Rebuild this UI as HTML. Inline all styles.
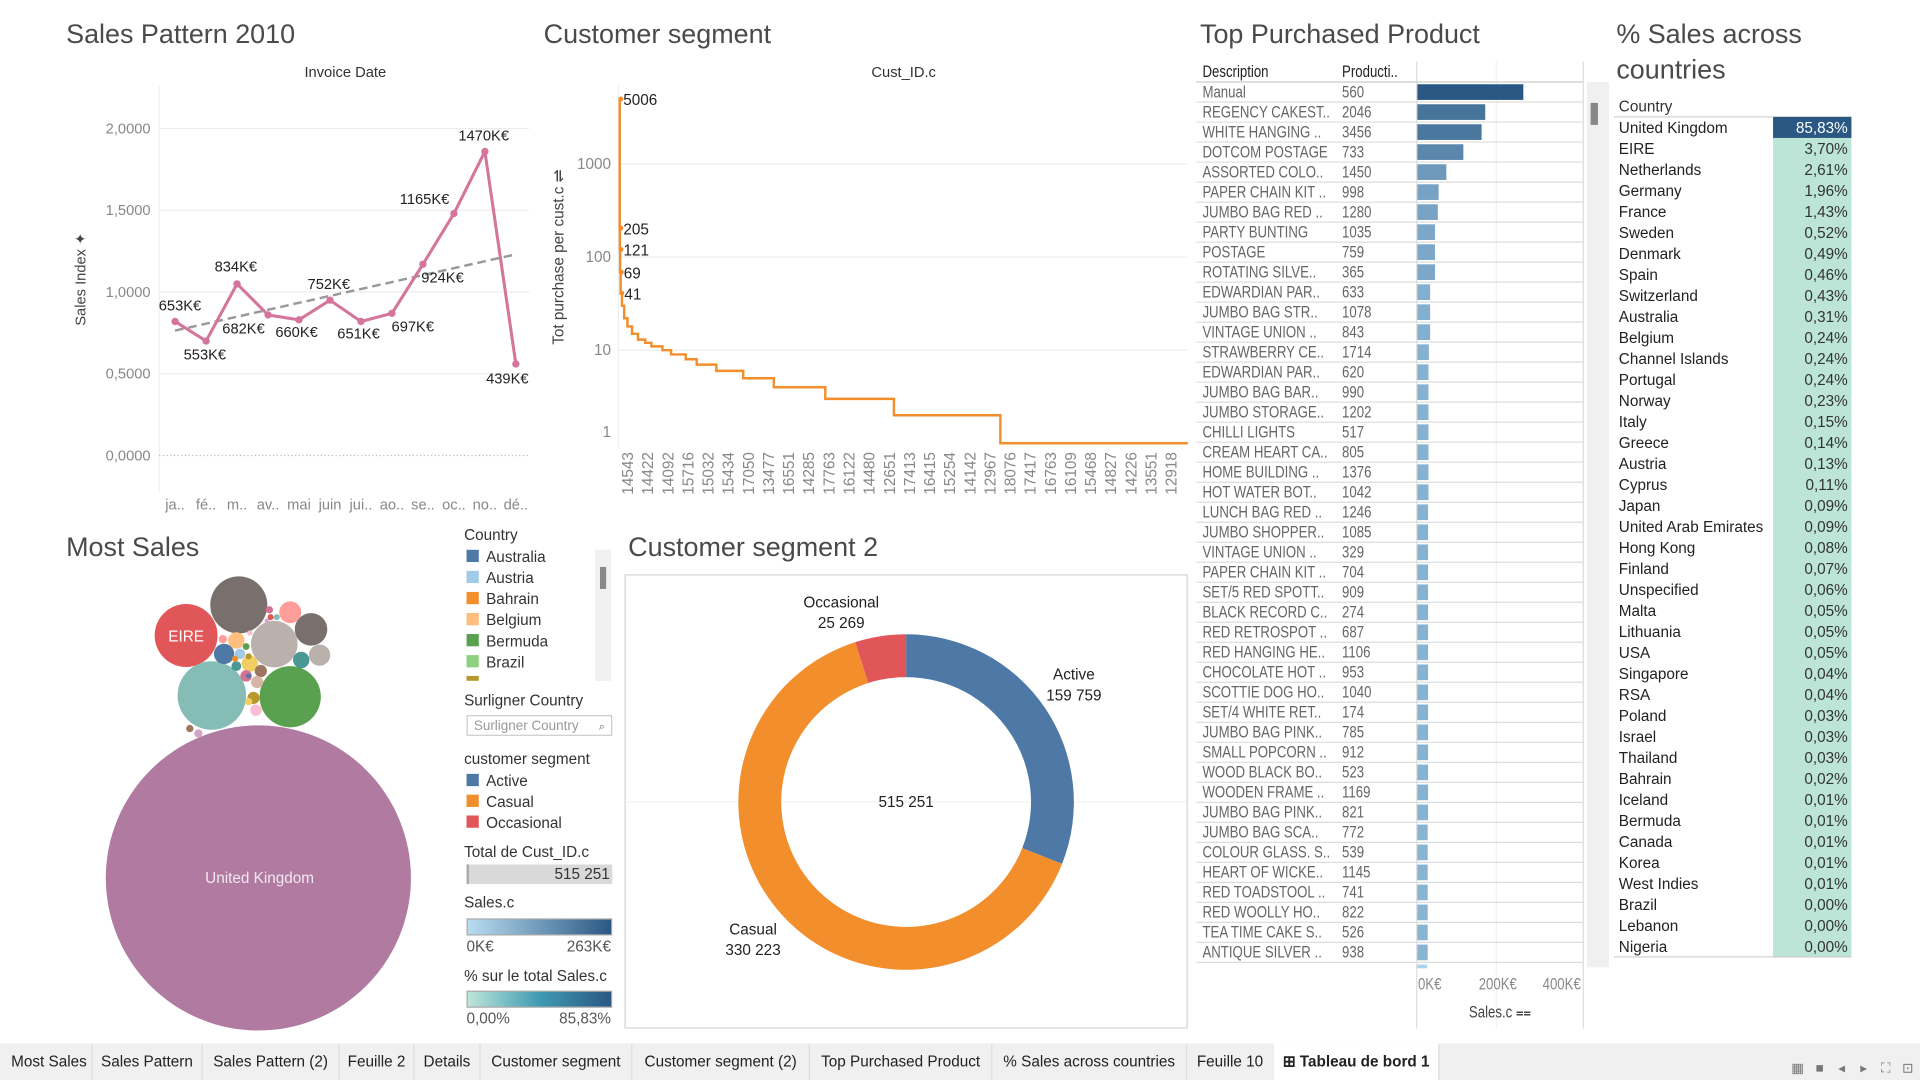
<!DOCTYPE html>
<html><head><meta charset="utf-8"><style>
html,body{margin:0;padding:0;background:#fff;overflow:hidden}
svg{display:block}
text{font-family:"Liberation Sans",sans-serif}
.t{font-size:22px;fill:#4a4a4a}
</style></head><body>
<svg id="dash" xmlns="http://www.w3.org/2000/svg" width="1920" height="1080" viewBox="0 0 1568 882">
<text x="54" y="35" class="t">Sales Pattern 2010</text>
<text x="444" y="35" class="t">Customer segment</text>
<text x="980" y="35" class="t">Top Purchased Product</text>
<text x="1320" y="35" class="t">% Sales across</text>
<text x="1320" y="64" class="t">countries</text>
<text x="54" y="454" class="t">Most Sales</text>
<text x="513" y="454" class="t">Customer segment 2</text>

<g id="line"></g>
<g id="cust"></g>
<g id="bub"></g>
<g id="donut"></g>
<g id="prod"></g>
<g id="ctry"></g>

<g font-size="12.5" fill="#333">
<text x="379" y="441">Country</text>
<g id="clegend"></g>
<rect x="486" y="449" width="13" height="107" fill="#f0f0f0"/>
<rect x="490" y="463" width="5" height="18" fill="#888"/>
<text x="379" y="576">Surligner Country</text>
<rect x="381.5" y="584.5" width="118" height="16" fill="#fff" stroke="#ccc"/>
<text x="387" y="596" font-size="11" fill="#999">Surligner Country</text>
<text x="489" y="596" font-size="9" fill="#666">⌕</text>
<text x="379" y="624">customer segment</text>
<rect x="381" y="632" width="10" height="10" fill="#4e79a7"/>
<text x="397" y="642">Active</text>
<rect x="381" y="649" width="10" height="10" fill="#f28e2b"/>
<text x="397" y="659">Casual</text>
<rect x="381" y="666" width="10" height="10" fill="#e15759"/>
<text x="397" y="676">Occasional</text>
<text x="379" y="700">Total de Cust_ID.c</text>
<rect x="381" y="706" width="119" height="16" fill="#d9d9d9"/>
<rect x="381" y="706" width="2" height="16" fill="#aaa"/>
<text x="498" y="718" text-anchor="end">515 251</text>
<text x="379" y="741">Sales.c</text>
<defs>
<linearGradient id="gb" x1="0" x2="1"><stop offset="0" stop-color="#b9ddf1"/><stop offset="1" stop-color="#2a5783"/></linearGradient>
<linearGradient id="gt" x1="0" x2="1"><stop offset="0" stop-color="#bfe6d9"/><stop offset="0.5" stop-color="#3f9bb3"/><stop offset="1" stop-color="#2a5783"/></linearGradient>
</defs>
<rect x="381.5" y="750.5" width="118" height="13" fill="url(#gb)" stroke="#aaa"/>
<text x="381" y="777" fill="#555">0K€</text>
<text x="499" y="777" text-anchor="end" fill="#555">263K€</text>
<text x="379" y="801">% sur le total Sales.c</text>
<rect x="381.5" y="809.5" width="118" height="13" fill="url(#gt)" stroke="#aaa"/>
<text x="381" y="836" fill="#555">0,00%</text>
<text x="499" y="836" text-anchor="end" fill="#555">85,83%</text>
</g>

<g id="tabs">
<rect x="0" y="852" width="1568" height="30" fill="#f0f0f0"/>
</g>
</svg>
<script>
const NS='http://www.w3.org/2000/svg';
function mk(tag,attrs,parent,txt){const e=document.createElementNS(NS,tag);for(const k in attrs)e.setAttribute(k,attrs[k]);if(txt!==undefined)e.textContent=txt;(parent||document.getElementById('dash')).appendChild(e);return e;}

/* ---------- Sales pattern line chart ---------- */
const months=['ja..','fé..','m..','av..','mai','juin','jui..','ao..','se..','oc..','no..','dé..'];
const salesIndex=[0.82,0.70,1.05,0.86,0.83,0.95,0.82,0.87,1.17,1.48,1.86,0.56];
const salesLabels=['653K€','553K€','834K€','682K€','660K€','752K€','651K€','697K€','924K€','1165K€','1470K€','439K€'];
const indexTicks=[0,0.5,1,1.5,2];
const indexTickLabels=['0,0000','0,5000','1,0000','1,5000','2,0000'];
(function(){
  const g=document.getElementById('line');
  const x=i=>143+i*25.3, y=v=>372-v*133.5;
  const offs=[[4,-9],[-1,15],[-1,-10],[-20,15],[-2,14],[-1,-9],[-2,14],[17,15],[16,15],[-24,-8],[-1,-9],[-7,16]];
  let e=mk('text',{x:282,y:63,'text-anchor':'middle','font-size':12,fill:'#333'},g,'Invoice Date');
  
  
  e=mk('text',{transform:'translate(70,228) rotate(-90)','text-anchor':'middle','font-size':12,fill:'#444'},g,'Sales Index ✦');
  
  
  e=mk('line',{x1:130,y1:70,x2:130,y2:402,stroke:'#eee'},g);
  
  
  indexTicks.forEach((t,i)=>{
    const l=mk('line',{x1:130,x2:432,y1:y(t),y2:y(t),stroke:t===0?'#bbb':'#ececec','stroke-dasharray':t===0?'1 2':'none'},g);
    
    
    const tx=mk('text',{x:123,y:y(t)+4,'text-anchor':'end','font-size':12,fill:'#888'},g,indexTickLabels[i]);
    
    
  });
  months.forEach((m,i)=>{
    const tx=mk('text',{x:x(i),y:416,'text-anchor':'middle','font-size':12,fill:'#888'},g,m);
    
    
  });
  const n=salesIndex.length, mx=(n-1)/2, my=salesIndex.reduce((a,b)=>a+b,0)/n;
  let sxy=0,sxx=0; salesIndex.forEach((v,i)=>{sxy+=(i-mx)*(v-my);sxx+=(i-mx)*(i-mx);});
  const sl=sxy/sxx, ic=my-sl*mx;
  e=mk('line',{x1:x(0),y1:y(ic),x2:x(n-1),y2:y(ic+sl*(n-1)),stroke:'#999','stroke-width':2,'stroke-dasharray':'7 4'},g);
  
  
  e=mk('polyline',{points:salesIndex.map((v,i)=>x(i)+','+y(v)).join(' '),fill:'none',stroke:'#d4759b','stroke-width':2.5,'stroke-linejoin':'round'},g);
  
  
  salesIndex.forEach((v,i)=>{
    const c=mk('circle',{cx:x(i),cy:y(v),r:3,fill:'#d4759b'},g);
    
    
    const t=mk('text',{x:x(i)+offs[i][0],y:y(v)+offs[i][1],'text-anchor':'middle','font-size':12,fill:'#222'},g,salesLabels[i]);
    
    
  });
})();

/* ---------- Customer segment step chart ---------- */
const custIds=['14543','14422','14092','15716','15032','15434','17050','13477','16551','14285','17763','16122','14480','12651','17413','16415','15254','14142','12967','18076','17417','16763','16109','15468','14827','14226','13551','12918'];
const stepValues=[5006,205,121,69,41,30,22,18,15,13,12,11,10,9,8,7,6,5,4,3,2,1];
const stepEndRank=[1,2,4,8,18,35,60,95,140,196,243,327,393,505,589,739,944,1178,1571,2095,2908,4339];
const labeledValues=[5006,205,121,69,41];
const logTicks=[1,10,100,1000];
(function(){
  const g=document.getElementById('cust');
  const total=stepEndRank[stepEndRank.length-1];
  const x=r=>506+r/total*464, y=v=>362-76*Math.log10(v);
  let e=mk('text',{x:738,y:63,'text-anchor':'middle','font-size':12,fill:'#333'},g,'Cust_ID.c');
  
  
  e=mk('text',{transform:'translate(460,210) rotate(-90)','text-anchor':'middle','font-size':12.5,fill:'#444'},g,'Tot purchase per cust.c ⇌');
  
  
  e=mk('line',{x1:505,y1:70,x2:505,y2:365,stroke:'#eee'},g);
  
  
  logTicks.forEach(t=>{
    if(t>1){const l=mk('line',{x1:505,x2:970,y1:y(t),y2:y(t),stroke:'#eee'},g);
    
    }
    const tx=mk('text',{x:499,y:(t===1?y(t)-5:y(t)+4),'text-anchor':'end','font-size':12.5,fill:'#888'},g,String(t));
    
    
  });
  let d='M'+x(0)+','+y(stepValues[0]);let prev=0;
  stepValues.forEach((v,i)=>{d+=' L'+x(prev)+','+y(v)+' L'+x(stepEndRank[i])+','+y(v);prev=stepEndRank[i];});
  e=mk('path',{d:d,fill:'none',stroke:'#f28e2b','stroke-width':2},g);
  
  
  let pr=0;
  stepValues.forEach((v,i)=>{
    if(labeledValues.indexOf(v)>=0){
      const c=mk('circle',{cx:x(pr)+1,cy:y(v),r:2,fill:'#f28e2b'},g);
      
      
      const t=mk('text',{x:x(pr)+3,y:y(v)+5,'font-size':12.5,fill:'#222'},g,String(v));
      
      
    }
    pr=stepEndRank[i];
  });
  custIds.forEach((c,i)=>{
    const xx=517+i*16.44;
    const t=mk('text',{transform:'translate('+xx+',404) rotate(-90)','font-size':12.5,fill:'#888'},g,c);
    
    
  });
})();

/* ---------- Bubbles ---------- */
const bubbleNames=['United Kingdom','EIRE','France','Germany','Denmark','Netherlands','Sweden','Switzerland','Finland','Australia','Portugal','Channel Islands','Belgium','Italy','Greece','Japan','Canada','Hong Kong','Cyprus','Austria','Spain','Israel','Norway','Singapore','RSA','Lithuania','Bermuda','Bahrain','Malta','Korea','Poland','Thailand','Iceland'];
const bubbleRadius=[124.6,25.7,23.3,19,28,25,13.3,8.7,9,8.3,6.7,6.7,6.7,5,4.7,5,5,4.7,4,4.3,3.4,3.4,3,3,2.5,2.5,2.8,2.5,2.5,2,3,2.2,2];
const bubbleLayout=[[211,717],[152,519],[195,494],[224,526],[173,568],[237,569],[254,514],[261,535],[237,500],[183,534],[246,539],[204,542],[193,523],[213,548],[201,552],[210,557],[207,570],[209,580],[193,544],[196,534],[182,522],[162,599],[155,595],[220,498],[226,504],[221,504],[201,528],[203,536],[192,538],[203,552],[203,573],[204,517],[218,507]];
const bubbleColors=['#b07aa1','#e15759','#79706e','#bab0ac','#86bcb6','#59a14f','#79706e','#bab0ac','#ff9d9a','#4e79a7','#499894','#f1ce63','#ffbe7d','#9d7660','#d37295','#d7b5a6','#b6992d','#fabfd2','#499894','#a0cbe8','#ff9d9a','#d4a6c8','#9d7660','#d37295','#86bcb6','#e15759','#59a14f','#b6992d','#f28e2b','#4e79a7','#f1ce63','#fabfd2','#d4a6c8'];
(function(){
  const g=document.getElementById('bub');
  bubbleNames.forEach((n,i)=>{
    const c=mk('circle',{cx:bubbleLayout[i][0],cy:bubbleLayout[i][1],r:bubbleRadius[i],fill:bubbleColors[i]},g);
    
    
  });
  let t=mk('text',{x:212,y:721,'text-anchor':'middle','font-size':12.5,fill:'#f3e8f0'},g,'United Kingdom');
  
  
  t=mk('text',{x:152,y:524,'text-anchor':'middle','font-size':12.5,fill:'#fff'},g,'EIRE');
  
  
  const lg=document.getElementById('clegend');
  const legNames=['Australia','Austria','Bahrain','Belgium','Bermuda','Brazil'];
  const legCols=['#4e79a7','#a0cbe8','#f28e2b','#ffbe7d','#59a14f','#8cd17d'];
  legNames.forEach((n,i)=>{
    const r=mk('rect',{x:381,y:449+i*17.2,width:10,height:10,fill:legCols[i]},lg);
    
    
    const t=mk('text',{x:397,y:459+i*17.2,'font-size':12.5,fill:'#333'},lg,n);
    
    
  });
  const r=mk('rect',{x:381,y:552,width:10,height:4,fill:'#b6992d'},lg);
  
  
})();

/* ---------- Donut ---------- */
const segNames=['Active','Casual','Occasional'];
const segValues=[159759,330223,25269];
const segColors=['#4e79a7','#f28e2b','#e15759'];
(function(){
  const g=document.getElementById('donut');
  let e=mk('rect',{x:510.5,y:469.5,width:459,height:370,fill:'none',stroke:'#d4d4d4'},g);
  
  
  e=mk('line',{x1:511,x2:969,y1:655,y2:655,stroke:'#f0f0f0'},g);
  
  
  const cx=740,cy=655,R=137,r=102,tot=segValues.reduce((a,b)=>a+b,0);
  let a0=0;
  const pt=(a,rad)=>[cx+rad*Math.sin(a),cy-rad*Math.cos(a)];
  const fmt=v=>String(v).replace(/\B(?=(\d{3})+(?!\d))/g,' ');
  const lp=[[877,551],[615,759],[687,492]];
  segValues.forEach((v,i)=>{
    const a1=a0+v/tot*2*Math.PI, lg=(a1-a0)>Math.PI?1:0;
    const p1=pt(a0,R),p2=pt(a1,R),p3=pt(a1,r),p4=pt(a0,r);
    const p=mk('path',{d:`M${p1} A${R},${R} 0 ${lg} 1 ${p2} L${p3} A${r},${r} 0 ${lg} 0 ${p4} Z`,fill:segColors[i]},g);
    
    
    const t=mk('text',{x:lp[i][0],y:lp[i][1]+4,'text-anchor':'middle','font-size':12.5,fill:'#222'},g,segNames[i]);
    
    
    const t2=mk('text',{x:lp[i][0],y:lp[i][1]+21,'text-anchor':'middle','font-size':12.5,fill:'#222'},g,fmt(v));
    
    
    a0=a1;
  });
  e=mk('text',{x:cx,y:cy+4,'text-anchor':'middle','font-size':12.5,fill:'#222'},g,fmt(tot));
  
  
})();

/* ---------- Top purchased product ---------- */
const prodNames=['Manual','REGENCY CAKEST..','WHITE HANGING ..','DOTCOM POSTAGE','ASSORTED COLO..','PAPER CHAIN KIT ..','JUMBO BAG RED ..','PARTY BUNTING','POSTAGE','ROTATING SILVE..','EDWARDIAN PAR..','JUMBO BAG STR..','VINTAGE UNION ..','STRAWBERRY CE..','EDWARDIAN PAR..','JUMBO  BAG BAR..','JUMBO STORAGE..','CHILLI LIGHTS','CREAM HEART CA..','HOME BUILDING ..','HOT WATER BOT..','LUNCH BAG RED ..','JUMBO SHOPPER..','VINTAGE UNION ..','PAPER CHAIN KIT ..','SET/5 RED SPOTT..','BLACK RECORD C..','RED RETROSPOT ..','RED HANGING HE..','CHOCOLATE HOT ..','SCOTTIE DOG HO..','SET/4 WHITE RET..','JUMBO BAG PINK..','SMALL POPCORN ..','WOOD BLACK BO..','WOODEN FRAME ..','JUMBO BAG PINK..','JUMBO BAG SCA..','COLOUR GLASS. S..','HEART OF WICKE..','RED TOADSTOOL ..','RED WOOLLY HO..','TEA TIME CAKE S..','ANTIQUE SILVER ..'];
const prodQty=[560,2046,3456,733,1450,998,1280,1035,759,365,633,1078,843,1714,620,990,1202,517,805,1376,1042,1246,1085,329,704,909,274,687,1106,953,1040,174,785,912,523,1169,821,772,539,1145,741,822,526,938];
const prodSales=[263,169,160,115,73,54,52,45,45,45,33,33,33,30,29,29,29,29,29,29,29,28,28,28,28,28,28,28,28,28,28,28,28,28,28,28,28,27,27,27,27,27,27,27];
const salesTicks=[0,200,400];
const salesTickLabels=['0K€','200K€','400K€'];
(function(){
  const g=document.getElementById('prod');
  const x=v=>1157+v*0.331, rh=16.34, y0=67, SX=0.8;
  const lerp=(a,b,t)=>Math.round(a+(b-a)*t);
  const col=v=>{const t=Math.min(1,v/263);const t2=Math.pow(t,0.6);return `rgb(${lerp(168,42,t2)},${lerp(210,87,t2)},${lerp(236,131,t2)})`;};
  // narrow text helper: scaled horizontally
  const nt=(xx,yy,s,fill,anchor)=>{const gg=mk('g',{transform:`translate(${xx},${yy}) scale(${SX},1)`},g);
    return mk('text',{x:0,y:0,'font-size':13.5,fill:fill,'text-anchor':anchor||'start'},gg,s);};
  let e=nt(982,63,'Description','#222');
  
  
  e=nt(1096,63,'Producti..','#222');
  
  
  e=mk('rect',{x:1296,y:67,width:18,height:723,fill:'#f0f0f0'},g);
  
  
  e=mk('rect',{x:1299,y:84,width:6,height:18,fill:'#888'},g);
  
  
  [1157,1222,1293].forEach(xx=>{const l=mk('line',{x1:xx,x2:xx,y1:50,y2:840,stroke:xx===1222?'#f2f2f2':'#ddd'},g);
    
    });
  e=mk('line',{x1:977,x2:1293,y1:y0,y2:y0,stroke:'#ccc'},g);
  
  
  prodNames.forEach((n,i)=>{
    const yy=y0+i*rh;
    const l=mk('line',{x1:977,x2:1293,y1:yy+rh,y2:yy+rh,stroke:'#ddd'},g);
    
    
    const t=nt(982,yy+12.5,n,'#666');
    
    
    const q=nt(1096,yy+12.5,String(prodQty[i]),'#666');
    
    
    const b=mk('rect',{x:1157.5,y:yy+1.8,width:x(prodSales[i])-1157.5,height:12.8,fill:col(prodSales[i])},g);
    
    
  });
  e=mk('rect',{x:1157.5,y:y0+44*rh+1.8,width:8,height:3,fill:'#a8d2ec'},g);
  
  
  salesTicks.forEach((t,i)=>{
    const xx=i===0?1158:(i===2?1291:x(t));
    const tx=nt(xx,808,salesTickLabels[i],'#888',i===0?'start':(i===2?'end':'middle'));
    
    });
  e=nt(1225,831,'Sales.c ⩵','#444','middle');
  
  
})();

/* ---------- Countries table ---------- */
const countryNames=['United Kingdom','EIRE','Netherlands','Germany','France','Sweden','Denmark','Spain','Switzerland','Australia','Belgium','Channel Islands','Portugal','Norway','Italy','Greece','Austria','Cyprus','Japan','United Arab Emirates','Hong Kong','Finland','Unspecified','Malta','Lithuania','USA','Singapore','RSA','Poland','Israel','Thailand','Bahrain','Iceland','Bermuda','Canada','Korea','West Indies','Brazil','Lebanon','Nigeria'];
const countryPct=['85,83%','3,70%','2,61%','1,96%','1,43%','0,52%','0,49%','0,46%','0,43%','0,31%','0,24%','0,24%','0,24%','0,23%','0,15%','0,14%','0,13%','0,11%','0,09%','0,09%','0,08%','0,07%','0,06%','0,05%','0,05%','0,05%','0,04%','0,04%','0,03%','0,03%','0,03%','0,02%','0,01%','0,01%','0,01%','0,01%','0,01%','0,00%','0,00%','0,00%'];
(function(){
  const g=document.getElementById('ctry');
  const rh=17.15,y0=95.5;
  let e=mk('text',{x:1322,y:91,'font-size':12.5,fill:'#333'},g,'Country');
  
  
  e=mk('line',{x1:1318,x2:1512,y1:y0,y2:y0,stroke:'#ccc'},g);
  
  
  countryNames.forEach((n,i)=>{
    const yy=y0+i*rh, big=i===0;
    const r=mk('rect',{x:1448,y:yy,width:64,height:rh+0.3,fill:big?'#2a5783':'#bce4d7'},g);
    
    
    const t=mk('text',{x:1322,y:yy+13,'font-size':12.5,fill:'#222'},g,n);
    
    
    const v=mk('text',{x:1509,y:yy+13,'text-anchor':'end','font-size':12.5,fill:big?'#fff':'#333'},g,countryPct[i]);
    
    
  });
  e=mk('line',{x1:1318,x2:1512,y1:y0+40*rh,y2:y0+40*rh,stroke:'#ccc'},g);
  
  
})();

/* ---------- Tabs ---------- */
(function(){
  const g=document.getElementById('tabs');
  const tabs=[['Most Sales',5,75],['Sales Pattern',75,165],['Sales Pattern (2)',165,277],['Feuille 2',277,338],['Details',338,392],['Customer segment',392,516],['Customer segment (2)',516,661],['Top Purchased Product',661,810],['% Sales across countries',810,969],['Feuille 10',969,1040],['⊞ Tableau de bord 1',1040,1175]];
  tabs.forEach((t,i)=>{
    const active=i===tabs.length-1;
    if(active){const r=mk('rect',{x:t[1],y:852,width:t[2]-t[1],height:30,fill:'#fff'},g);
      
      }
    const l=mk('line',{x1:t[2],x2:t[2],y1:853,y2:882,stroke:'#ddd'},g);
    
    
    const tx=mk('text',{x:(t[1]+t[2])/2,y:871,'text-anchor':'middle','font-size':12.5,fill:'#222','font-weight':active?'bold':'normal'},g,t[0]);
    
    
  });
  const icons=['▦','■','◂','▸','⛶','⊡'];
  icons.forEach((c,i)=>{const t=mk('text',{x:1468+i*18,y:876,'text-anchor':'middle','font-size':11,fill:'#777'},g,c);
    
    });
})();
</script>
</body></html>
